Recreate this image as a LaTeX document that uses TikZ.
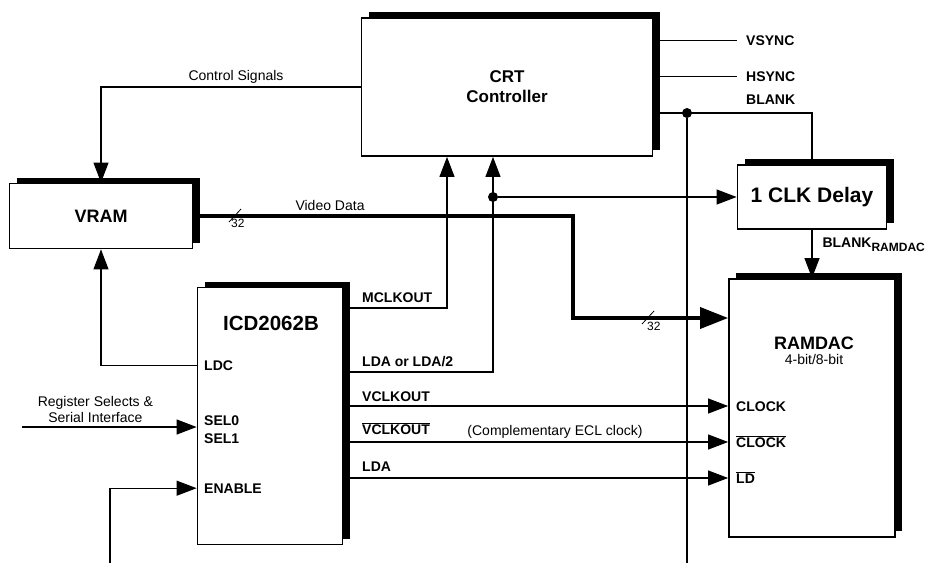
\documentclass[tikz,border=0pt]{standalone}
\usepackage{fontspec}
\setmainfont{Liberation Sans}
\usetikzlibrary{arrows.meta,positioning,calc,shadows}

\begin{document}
\begin{tikzpicture}[
  x=1pt,y=-1pt,
  block/.style={draw,line width=1.8pt,fill=white,inner sep=0pt,align=center,
    general shadow={fill=black,shadow xshift=7pt,shadow yshift=6pt}},
  title/.style={align=center,font=\fontsize{18}{20}\selectfont\bfseries},
  pin/.style={inner sep=0pt,anchor=base west,font=\fontsize{14}{16}\selectfont\bfseries},
  note/.style={inner sep=1pt,align=center,font=\fontsize{14}{16}\selectfont},
  width/.style={inner sep=0pt,anchor=north west,font=\fontsize{12}{13}\selectfont},
  sig/.style={line width=1.1pt},
  tick/.style={line width=0.8pt},
  arrow/.style={sig,-{Triangle[length=20pt,width=15pt]}},
  bus/.style={line width=3.6pt,-{Triangle[length=28pt,width=21pt]}},
  dot/.style={circle,fill,inner sep=0pt,minimum size=10pt}
]
  \useasboundingbox (0,0) rectangle (934,563);

  \node[block,title,minimum width=291pt,minimum height=138pt,font=\fontsize{17}{20}\selectfont\bfseries] (crt) at (507,87) {CRT\\Controller};
  \node[block,title,minimum width=183pt,minimum height=65pt] (vram) at (101,216) {VRAM};
  \node[block,title,minimum width=149pt,minimum height=64pt,font=\fontsize{21}{23}\selectfont\bfseries] (delay) at (812,197) {1 CLK Delay};
  \node[block,minimum width=145pt,minimum height=257pt] (icd) at (270,416) {};
  \node[block,minimum width=166pt,minimum height=258pt] (ramdac) at (812,408) {};

  \node[title,font=\fontsize{20.5}{22}\selectfont\bfseries] (icdname) at (271,323) {ICD2062B};
  \node[title] (dacname) at (814,343) {RAMDAC};
  \node[note,below=0pt of dacname] (dacbits) {4-bit/8-bit};

  \node[pin] (ldc) at (204,370) {LDC};
  \node[pin] (sel0) at (204,425) {SEL0};
  \node[pin] (sel1) at (204,443) {SEL1};
  \node[pin] (enable) at (204,493) {ENABLE};

  \node[pin] (mclkout) at (362,302) {MCLKOUT};
  \node[pin] (ldaout) at (362,366) {LDA or LDA/2};
  \node[pin] (vclkout) at (362,401) {VCLKOUT};
  \node[pin] (nvclkout) at (362,434) {$\overline{\hbox{VCLKOUT}}$};
  \node[pin] (lda) at (362,471) {LDA};

  \node[pin] (clock) at (736,411) {CLOCK};
  \node[pin] (nclock) at (736,447) {$\overline{\hbox{CLOCK}}$};
  \node[pin] (nld) at (736,483) {$\overline{\hbox{LD}}$};

  \node[pin] (vsync) at (746,45) {VSYNC};
  \node[pin] (hsync) at (746,81) {HSYNC};
  \node[pin] (blank) at (746,104) {BLANK};

  \node[dot] (blk) at (687,113) {};
  \node[dot] (tap) at (493,197) {};
  \coordinate (mbend) at (447,308);
  \coordinate (lbend) at (493,372);
  \coordinate (vbend) at (573,318);
  \coordinate (c1) at (736,406);
  \coordinate (c2) at (736,442);
  \coordinate (c3) at (736,478);
  \coordinate (regin) at (22,427);
  \coordinate (enin) at (110,563);
  \coordinate (w1) at (235,216);
  \coordinate (w2) at (648,318);

  \draw[arrow] (crt.west) -| node[note,pos=0.24,above=2pt] {Control Signals} (vram.north);
  \draw[bus] (vram.east) -| node[note,pos=0.18,above=3pt] {Video Data} (vbend) -- (ramdac.west |- vbend);
  \draw[tick] ($(w1)+(-6,6)$) -- ($(w1)+(6,-7)$);
  \node[width] at ($(w1)+(-4,3)$) {32};
  \draw[tick] ($(w2)+(-6,6)$) -- ($(w2)+(6,-7)$);
  \node[width] at ($(w2)+(-1,4)$) {32};

  \draw[sig] (crt.east |- vsync.west) -- ([xshift=-9pt]vsync.west);
  \draw[sig] (crt.east |- hsync.west) -- ([xshift=-9pt]hsync.west);
  \draw[sig] (crt.east |- blk) -| (delay.north);
  \draw[sig] (blk) -- (blk |- enin);
  \draw[arrow] (delay.south) -- node[pos=0.3,anchor=west,xshift=10pt,inner sep=0pt,font=\fontsize{14}{16}\selectfont\bfseries] {BLANK\raisebox{-0.55ex}{\fontsize{12}{12}\selectfont RAMDAC}} (ramdac.north);

  \draw[arrow] (icd.east |- mbend) -- (mbend) -- (crt.south -| mbend);
  \draw[arrow] (icd.east |- lbend) -- (lbend) -- (crt.south -| lbend);
  \draw[arrow] (tap) -- (delay.west |- tap);

  \draw[arrow] (icd.east |- c1) -- (ramdac.west |- c1);
  \draw[arrow] (icd.east |- c2) -- node[note,pos=0.55,above=2pt] {(Complementary ECL clock)} (ramdac.west |- c2);
  \draw[arrow] (icd.east |- c3) -- (ramdac.west |- c3);

  \draw[arrow] (icd.west |- ldc) -| (vram.south);
  \draw[arrow] (regin) -- node[note,pos=0.42,above=3pt] {Register Selects \&\\Serial Interface} (icd.west |- regin);
  \draw[arrow] (enin) |- (icd.west |- enable);
\end{tikzpicture}
\end{document}
